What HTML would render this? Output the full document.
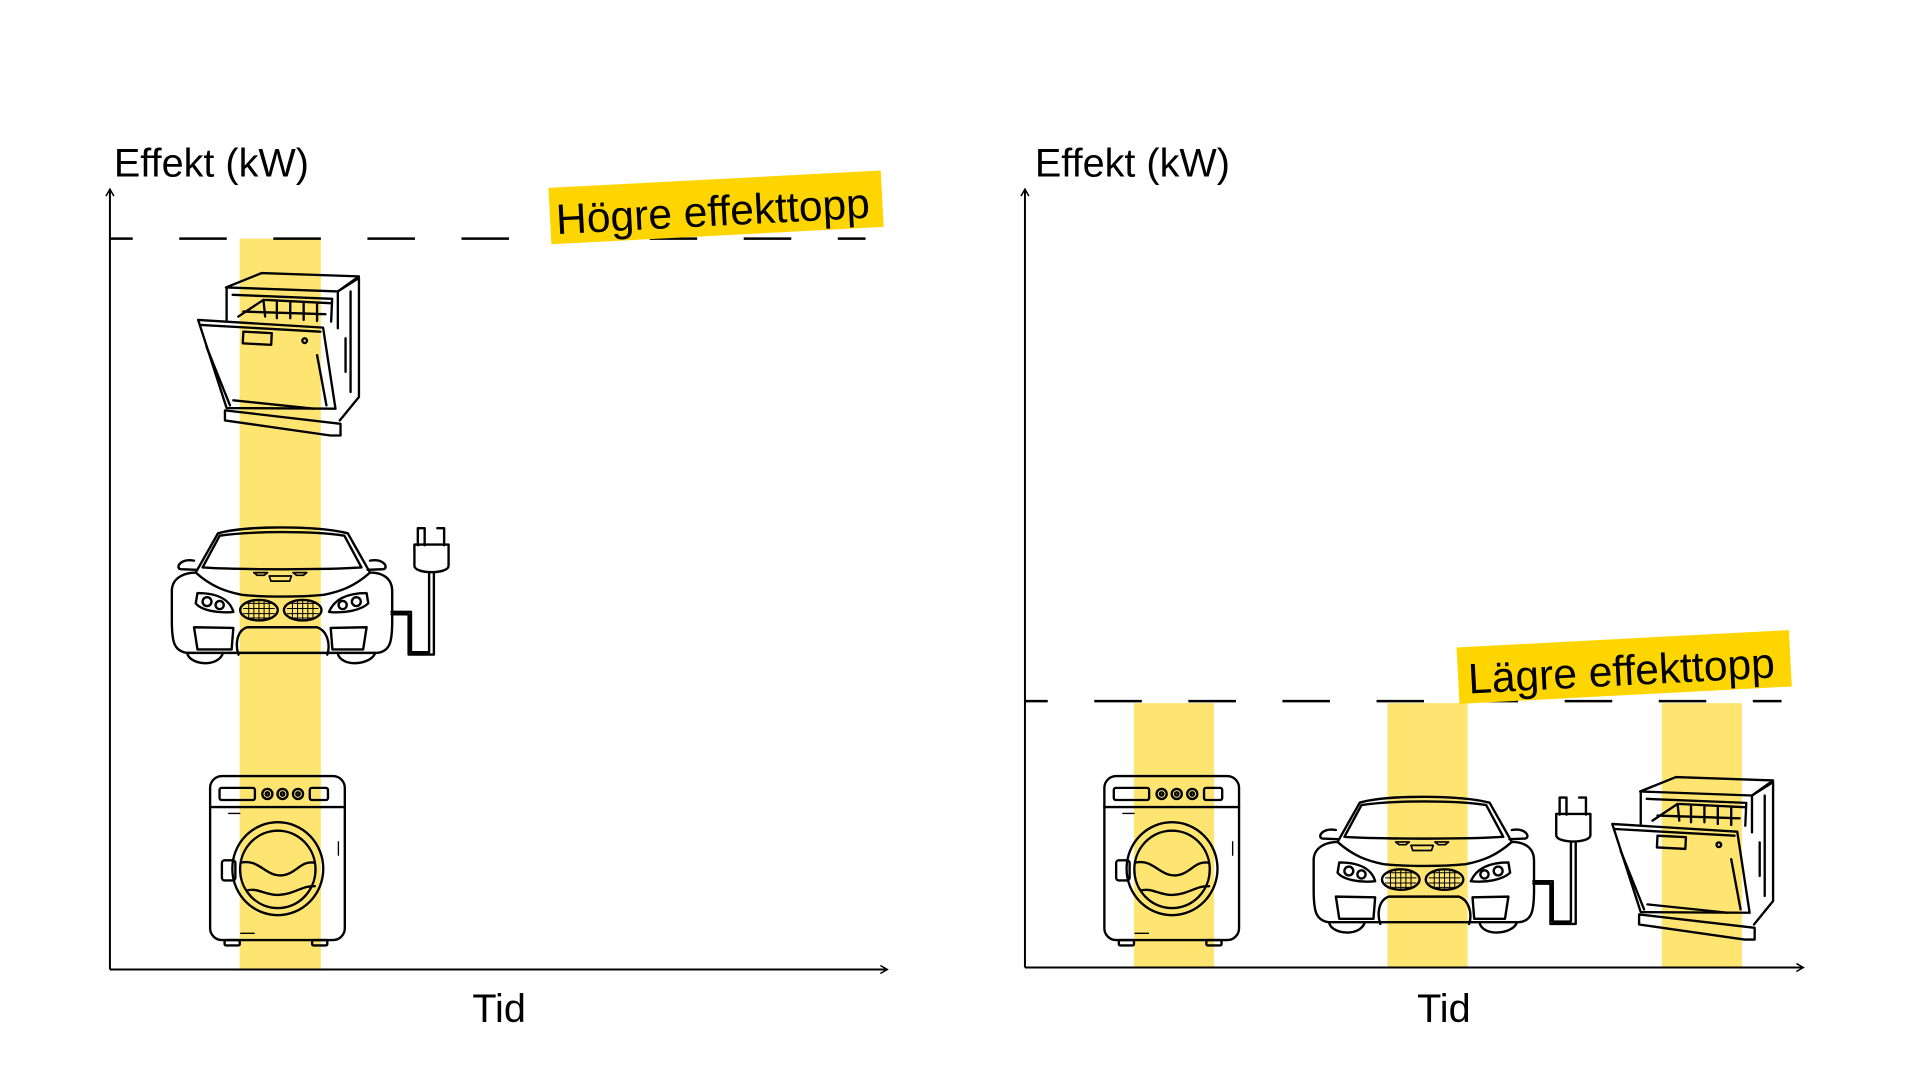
<!DOCTYPE html>
<html><head><meta charset="utf-8"><style>
html,body{margin:0;padding:0;background:#fff;}
svg{display:block;}
text{font-family:"Liberation Sans",Arial,sans-serif;fill:#000;}
</style></head><body>
<svg width="1920" height="1080" viewBox="0 0 1920 1080" xmlns="http://www.w3.org/2000/svg">
<defs>
<marker id="ar" markerWidth="10" markerHeight="10" refX="8" refY="5" orient="auto" markerUnits="userSpaceOnUse">
<path d="M1,1 L8,5 L1,9" fill="none" stroke="#000" stroke-width="1.5"/>
</marker>
<g id="washer" fill="none" stroke="#000" stroke-width="7" stroke-linecap="round">
<rect x="27" y="5" width="400" height="487" rx="35"/>
<line x1="27" y1="97" x2="427" y2="97"/>
<rect x="55" y="40" width="105" height="36" rx="6"/>
<circle cx="197" cy="58" r="15"/><circle cx="197" cy="58" r="5"/>
<circle cx="242" cy="58" r="15"/><circle cx="242" cy="58" r="5"/>
<circle cx="288" cy="58" r="15"/><circle cx="288" cy="58" r="5"/>
<rect x="323" y="40" width="54" height="36" rx="6"/>
<ellipse cx="228" cy="280" rx="135" ry="138"/>
<ellipse cx="228" cy="282" rx="112" ry="115"/>
<rect x="62" y="255" width="40" height="60" rx="8"/>
<path d="M118,262 C170,250 190,300 235,300 C280,300 295,255 335,262"/>
<path d="M135,345 C170,335 190,360 230,358 C280,355 300,330 338,332"/>
<line x1="82" y1="116" x2="115" y2="116" stroke-width="4"/>
<line x1="118" y1="472" x2="158" y2="472" stroke-width="4"/>
<line x1="408" y1="200" x2="408" y2="240" stroke-width="4"/>
<rect x="70" y="492" width="45" height="16" rx="4"/>
<rect x="330" y="492" width="45" height="16" rx="4"/>
</g>
<g id="dish" fill="none" stroke="#000" stroke-width="7" stroke-linejoin="round" stroke-linecap="round">
<path d="M98,48 L205,5 L495,15 L432,60 Z"/>
<path d="M432,60 L495,20 L495,375 L438,445"/>
<line x1="432" y1="60" x2="432" y2="170"/>
<line x1="100" y1="50" x2="100" y2="145"/>
<path d="M118,70 L415,82 L412,150"/>
<path d="M135,135 L210,85 L410,95 M210,85 L215,135 M250,88 V140 M290,90 V140 M330,92 V145 M370,93 V148 M150,120 L395,128"/>
<path d="M15,145 L388,168 L425,410 L100,408 Z"/>
<path d="M22,160 L380,180"/>
<rect x="150" y="180" width="85" height="35" transform="rotate(3 150 180)"/>
<circle cx="333" cy="207" r="7"/>
<path d="M40,225 L110,400 M370,250 L398,400"/>
<path d="M95,415 L440,455 L440,490 L410,490 L95,445 Z"/>
<path d="M120,385 L360,410"/>
<path d="M470,60 V360 M455,200 V300"/>
</g>
<g id="car" fill="none" stroke="#000" stroke-width="7" stroke-linejoin="round" stroke-linecap="round">
<path d="M90,395 C50,390 45,360 45,300 L45,210 C48,170 90,160 115,160 L180,45 C260,22 470,22 560,45 L625,160 C660,160 690,175 690,215 L690,300 C690,360 685,392 645,395 Z"/>
<path d="M135,145 L185,52 C280,38 460,38 550,52 L600,145 C500,152 240,152 135,145 Z"/>
<path d="M115,160 C160,200 200,215 250,225 C320,232 420,232 490,225 C540,215 580,200 625,160"/>
<path d="M110,125 C70,118 55,145 70,150 L118,152"/>
<path d="M625,125 C665,118 680,145 665,150 L618,152"/>
<path d="M90,395 C95,430 180,440 195,395 M530,395 C540,440 630,430 640,395"/>
<path d="M120,220 C180,220 215,240 225,275 C180,280 130,270 115,250 Z"/>
<circle cx="148" cy="245" r="13"/><circle cx="185" cy="255" r="12"/>
<path d="M615,220 C555,220 520,240 505,275 C550,280 600,270 620,250 Z"/>
<circle cx="585" cy="245" r="13"/><circle cx="545" cy="255" r="12"/>
<ellipse cx="300" cy="270" rx="55" ry="30"/>
<ellipse cx="428" cy="270" rx="55" ry="30"/>
<path d="M260,250 H340 M255,265 H345 M255,280 H345 M265,293 H335 M270,245 V297 M285,242 V300 M300,240 V300 M315,242 V300 M330,245 V297" stroke-width="3"/>
<path d="M388,250 H468 M383,265 H473 M383,280 H473 M393,293 H463 M398,245 V297 M413,242 V300 M428,240 V300 M443,242 V300 M458,245 V297" stroke-width="3"/>
<path d="M240,400 C230,370 235,330 265,320 L470,320 C500,330 510,370 500,400"/>
<path d="M110,320 L225,322 L220,385 L120,385 Z"/>
<path d="M510,322 L615,320 L605,385 L515,385 Z"/>
<path d="M285,160 L325,160 L315,168 L295,168 Z M400,160 L440,160 L430,168 L410,168 Z M330,170 L395,170 L390,185 L335,185 Z" stroke-width="5"/>
<path d="M765,30 H785 V80 M822,30 H842 V80 M765,30 V80 M842,30 V80"/>
<path d="M755,78 H855 V140 C855,165 755,165 755,140 Z"/>
<path d="M798,163 V393 H745 V275 H688 M812,163 V400 H738 V282 H688"/>
</g>
</defs>
<g transform="scale(0.9903)">
<!-- LEFT CHART -->
<rect x="242" y="241" width="82" height="738" fill="#fee572"/>
<line x1="111" y1="979" x2="111" y2="191" stroke="#000" stroke-width="2" marker-end="url(#ar)"/>
<line x1="111" y1="979" x2="896" y2="979" stroke="#000" stroke-width="2" marker-end="url(#ar)"/>
<line x1="111" y1="241" x2="874" y2="241" stroke="#000" stroke-width="2.5" stroke-dasharray="48 47" stroke-dashoffset="25"/>
<g transform="rotate(-3 722 208)">
<rect x="555" y="181" width="336" height="57" fill="#ffd500"/>
<text x="561" y="228" font-size="43">Högre effekttopp</text>
</g>
<text x="115" y="178" font-size="40">Effekt (kW)</text>
<text x="504" y="1032" font-size="40" text-anchor="middle">Tid</text>
<use href="#dish" transform="translate(195,274) scale(0.3383)"/>
<use href="#car" transform="translate(158,523) scale(0.345)"/>
<use href="#washer" transform="translate(203,782) scale(0.34)"/>

<!-- RIGHT CHART -->
<rect x="1145" y="710" width="81" height="267" fill="#fee572"/>
<rect x="1401" y="710" width="81" height="267" fill="#fee572"/>
<rect x="1678" y="710" width="81" height="267" fill="#fee572"/>
<line x1="1035" y1="977" x2="1035" y2="191" stroke="#000" stroke-width="2" marker-end="url(#ar)"/>
<line x1="1035" y1="977" x2="1821" y2="977" stroke="#000" stroke-width="2" marker-end="url(#ar)"/>
<line x1="1035" y1="708" x2="1799" y2="708" stroke="#000" stroke-width="2.5" stroke-dasharray="48 47" stroke-dashoffset="25"/>
<g transform="rotate(-3 1640 672)">
<rect x="1472" y="645" width="336" height="57" fill="#ffd500"/>
<text x="1482" y="692" font-size="43">Lägre effekttopp</text>
</g>
<text x="1045" y="178" font-size="40">Effekt (kW)</text>
<text x="1458" y="1032" font-size="40" text-anchor="middle">Tid</text>
<use href="#washer" transform="translate(1106,782) scale(0.34)"/>
<use href="#car" transform="translate(1311,795) scale(0.345)"/>
<use href="#dish" transform="translate(1623,783) scale(0.3383)"/>
</g>
</svg>
</body></html>
